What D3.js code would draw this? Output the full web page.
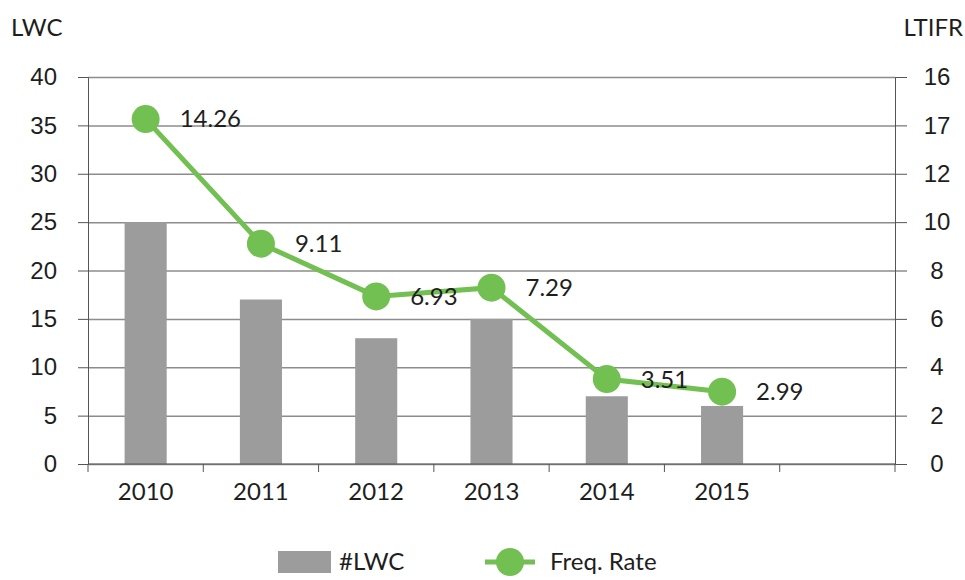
<!DOCTYPE html>
<html>
<head>
<meta charset="utf-8">
<script src="https://cdn.jsdelivr.net/npm/d3@7.9.0/dist/d3.min.js"></script>
<style>
  body { margin: 0; background: #fff; }
  svg { display: block; font-family: Lato, "Noto Sans", sans-serif; }
  .axis path, .axis line { stroke: #555; }
  .grid line { stroke: #8c8c8c; stroke-width: 1.5; }
  .grid path { display: none; }
</style>
</head>
<body>
<svg id="chart" width="965" height="580"></svg>
<script>
// slots on the x axis (the last one is empty in the original)
const years = ["2010", "2011", "2012", "2013", "2014", "2015", ""];
const lwc = [25, 17, 13, 15, 7, 6];
const freqRate = [14.26, 9.11, 6.93, 7.29, 3.51, 2.99];
const leftTicks = [0, 5, 10, 15, 20, 25, 30, 35, 40];
const rightTicks = [0, 2, 4, 6, 8, 10, 12, 14, 16];
const rightTickLabels = ["0", "2", "4", "6", "8", "10", "12", "17", "16"];

const width = 965;
const height = 580;
const margin = { top: 77, right: 70, bottom: 116, left: 88 };
const plot = {
  left: margin.left,
  right: width - margin.right,
  top: margin.top,
  bottom: height - margin.bottom,
};

const fontSize = 24;
const green = "#72bf52";
const barColor = "#9b9c9b";
const textColor = "#1e1e1e";

const svg = d3.select("#chart");

const x = d3.scaleBand().domain(years.map((d, i) => i)).range([plot.left, plot.right]).padding(0);
const yLeft = d3.scaleLinear().domain([0, 40]).range([plot.bottom, plot.top]);
const yRight = d3.scaleLinear().domain([0, 16]).range([plot.bottom, plot.top]);
const barW = x.bandwidth() * 0.365;

// gridlines
svg.append("g")
  .attr("class", "grid")
  .attr("transform", `translate(${plot.left},0)`)
  .call(d3.axisRight(yLeft).tickValues(leftTicks).tickFormat("").tickSize(plot.right - plot.left));

// bars
svg.append("g")
  .selectAll("rect")
  .data(lwc)
  .join("rect")
  .attr("x", (d, i) => x(i) + (x.bandwidth() - barW) / 2)
  .attr("y", (d) => yLeft(d))
  .attr("width", barW)
  .attr("height", (d) => yLeft(0) - yLeft(d))
  .attr("fill", barColor);

// left axis
const leftAxis = svg.append("g")
  .attr("class", "axis")
  .attr("transform", `translate(${plot.left},0)`)
  .call(d3.axisLeft(yLeft).tickValues(leftTicks).tickSize(10).tickSizeOuter(0));
leftAxis.selectAll("text")
  .attr("x", -31)
  .attr("font-size", fontSize)
  .attr("fill", textColor);

// right axis
const rightAxis = svg.append("g")
  .attr("class", "axis")
  .attr("transform", `translate(${plot.right},0)`)
  .call(d3.axisRight(yRight).tickValues(rightTicks).tickFormat((d, i) => rightTickLabels[i]).tickSize(12).tickSizeOuter(0));
rightAxis.selectAll("text")
  .attr("x", 42)
  .attr("text-anchor", "middle")
  .attr("font-size", fontSize)
  .attr("fill", textColor);

// bottom axis
const xTickPositions = d3.range(years.length + 1).map((i) => plot.left + i * x.step());
const bottom = svg.append("g").attr("class", "axis");
bottom.append("line")
  .attr("x1", plot.left).attr("x2", plot.right)
  .attr("y1", plot.bottom).attr("y2", plot.bottom)
  .attr("stroke", "#555");
bottom.selectAll(".xtick")
  .data(xTickPositions)
  .join("line")
  .attr("class", "xtick")
  .attr("x1", (d) => d).attr("x2", (d) => d)
  .attr("y1", plot.bottom).attr("y2", plot.bottom + 8)
  .attr("stroke", "#555");
bottom.selectAll("text")
  .data(years)
  .join("text")
  .attr("x", (d, i) => x(i) + x.bandwidth() / 2)
  .attr("y", plot.bottom + 36)
  .attr("text-anchor", "middle")
  .attr("font-size", fontSize)
  .attr("fill", textColor)
  .text((d) => d);

// axis titles
svg.append("text").attr("x", 11).attr("y", 36).attr("font-size", fontSize).attr("fill", textColor).text("LWC");
svg.append("text").attr("x", 963).attr("y", 36).attr("text-anchor", "end").attr("font-size", fontSize).attr("fill", textColor).text("LTIFR");

// frequency rate line
const cx = (d, i) => x(i) + x.bandwidth() / 2;
const line = d3.line().x(cx).y((d) => yRight(d));
svg.append("path")
  .datum(freqRate)
  .attr("d", line)
  .attr("fill", "none")
  .attr("stroke", green)
  .attr("stroke-width", 5);

svg.append("g")
  .selectAll("circle")
  .data(freqRate)
  .join("circle")
  .attr("cx", cx)
  .attr("cy", (d) => yRight(d))
  .attr("r", 14)
  .attr("fill", green);

svg.append("g")
  .selectAll("text")
  .data(freqRate)
  .join("text")
  .attr("x", (d, i) => cx(d, i) + 34)
  .attr("y", (d) => yRight(d))
  .attr("dy", "0.35em")
  .attr("font-size", fontSize)
  .attr("fill", textColor)
  .text((d) => d3.format(".2f")(d));

// legend
const legend = svg.append("g").attr("transform", "translate(0,562)");
legend.append("rect").attr("x", 278).attr("y", -11).attr("width", 53).attr("height", 22).attr("fill", barColor);
legend.append("text").attr("x", 339).attr("dy", "0.35em").attr("font-size", fontSize).attr("fill", textColor).text("#LWC");
legend.append("line").attr("x1", 485).attr("x2", 535).attr("stroke", green).attr("stroke-width", 5);
legend.append("circle").attr("cx", 510).attr("r", 14).attr("fill", green);
legend.append("text").attr("x", 550).attr("dy", "0.35em").attr("font-size", fontSize).attr("fill", textColor).text("Freq. Rate");
</script>
</body>
</html>
